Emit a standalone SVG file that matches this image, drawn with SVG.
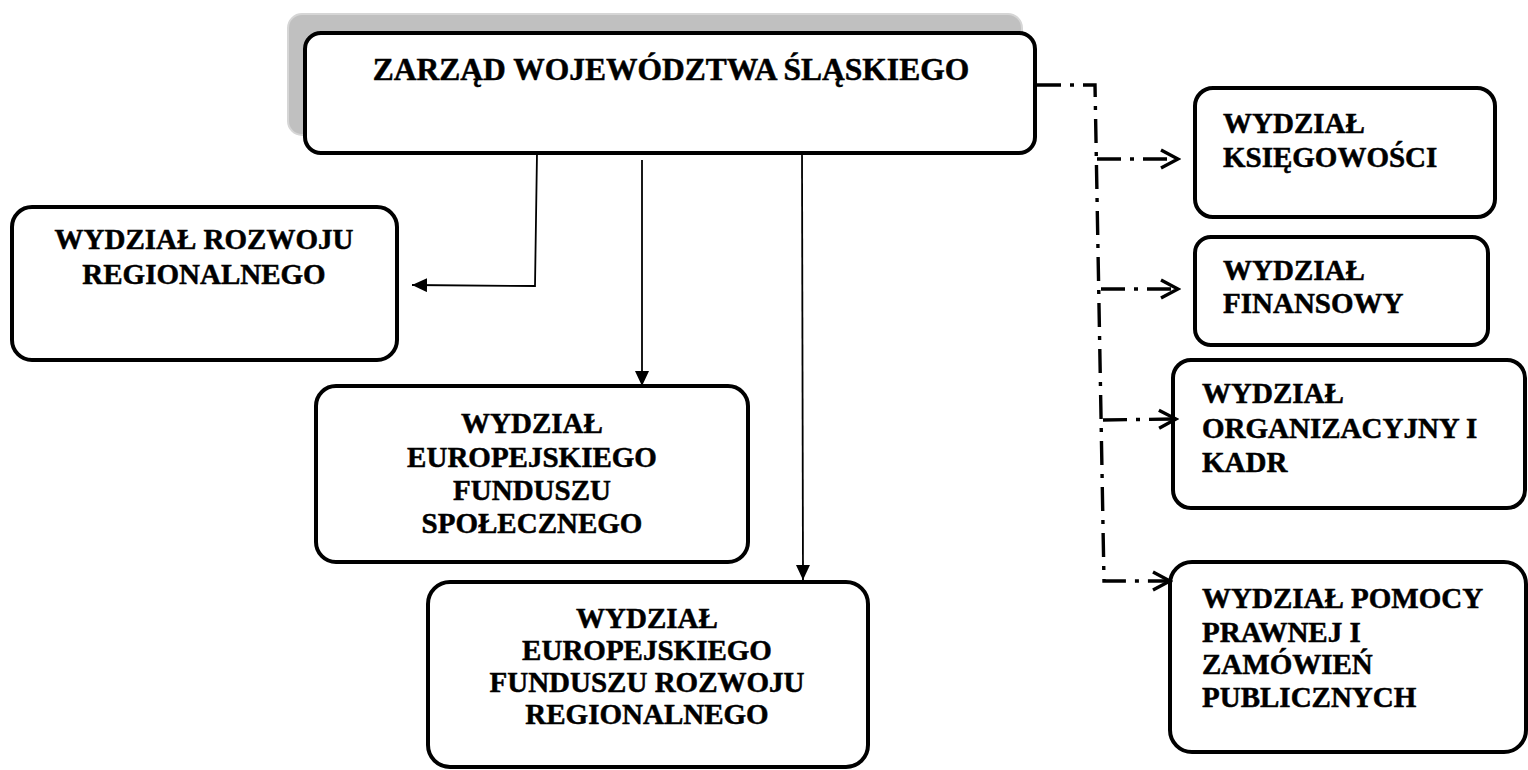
<svg xmlns="http://www.w3.org/2000/svg" width="1528" height="770" viewBox="0 0 1528 770">
<style>
.box{fill:#fff;stroke:#000;stroke-width:4}
.t{font-family:"Liberation Serif","Times New Roman",serif;font-weight:bold;font-size:29px;fill:#000;stroke:#000;stroke-width:0.5}
.c{text-anchor:middle}
.solid{fill:none;stroke:#000;stroke-width:1.8}
.dd{fill:none;stroke:#000;stroke-width:3.4;stroke-dasharray:24 9 4 9}
</style>
<defs>
<marker id="fa" markerUnits="userSpaceOnUse" viewBox="0 0 15 14" markerWidth="15" markerHeight="14" refX="15" refY="7" orient="auto">
<path d="M0,0 L15,7 L0,14 Z" fill="#000"/>
</marker>
<marker id="oa" markerUnits="userSpaceOnUse" viewBox="0 0 22 22" markerWidth="22" markerHeight="22" refX="19" refY="11" orient="auto">
<path d="M2,2 L19,11 L2,20" fill="none" stroke="#000" stroke-width="3.4" stroke-dasharray="none"/>
</marker>
</defs>
<g id="zarzad">
<rect x="288" y="14" width="734" height="121" rx="14" fill="#c0c0c0" stroke="#d6d6d6" stroke-width="2"/>
<rect class="box" x="305" y="33" width="730" height="120" rx="16"/>
<text class="t c" x="671" y="80" style="font-size:31.5px">ZARZĄD WOJEWÓDZTWA ŚLĄSKIEGO</text>
</g>
<g id="rozwoju">
<rect class="box" x="12" y="207" width="385" height="153" rx="20"/>
<g class="t c"><text x="204" y="249">WYDZIAŁ ROZWOJU</text><text x="204" y="284">REGIONALNEGO</text></g>
</g>
<g id="efs">
<rect class="box" x="316" y="386" width="432" height="176" rx="20"/>
<g class="t c"><text x="532" y="433">WYDZIAŁ</text><text x="532" y="467">EUROPEJSKIEGO</text><text x="532" y="500">FUNDUSZU</text><text x="532" y="533">SPOŁECZNEGO</text></g>
</g>
<g id="efrr">
<rect class="box" x="428" y="582" width="440" height="185" rx="22"/>
<g class="t c"><text x="647" y="628">WYDZIAŁ</text><text x="647" y="660">EUROPEJSKIEGO</text><text x="647" y="692">FUNDUSZU ROZWOJU</text><text x="647" y="724">REGIONALNEGO</text></g>
</g>
<g id="ksiegowosci">
<rect class="box" x="1195" y="88" width="300" height="129" rx="18"/>
<g class="t"><text x="1223" y="133">WYDZIAŁ</text><text x="1223" y="167">KSIĘGOWOŚCI</text></g>
</g>
<g id="finansowy">
<rect class="box" x="1195" y="237" width="293" height="108" rx="16"/>
<g class="t"><text x="1223" y="280">WYDZIAŁ</text><text x="1223" y="313">FINANSOWY</text></g>
</g>
<g id="organizacyjny">
<rect class="box" x="1173" y="360" width="352" height="148" rx="18"/>
<g class="t"><text x="1202" y="403">WYDZIAŁ</text><text x="1202" y="438">ORGANIZACYJNY I</text><text x="1202" y="472">KADR</text></g>
</g>
<g id="pomocy">
<rect class="box" x="1170" y="562" width="356" height="190" rx="22"/>
<g class="t"><text x="1202" y="608">WYDZIAŁ POMOCY</text><text x="1202" y="642">PRAWNEJ I</text><text x="1202" y="674">ZAMÓWIEŃ</text><text x="1202" y="707">PUBLICZNYCH</text></g>
</g>
<g id="connectors">
<path class="solid" d="M537,153 L535,286 L412,285" marker-end="url(#fa)"/>
<path class="solid" d="M642,160 L642,386" marker-end="url(#fa)"/>
<path class="solid" d="M802,153 L803,580" marker-end="url(#fa)"/>
<path class="dd" d="M1037,85 L1095,85 L1104,581 L1170,581" marker-end="url(#oa)"/>
<path class="dd" d="M1097,159 L1178,159" marker-end="url(#oa)"/>
<path class="dd" d="M1101,289 L1178,289" marker-end="url(#oa)"/>
<path class="dd" d="M1103,420 L1176,419" marker-end="url(#oa)"/>
</g>
</svg>
